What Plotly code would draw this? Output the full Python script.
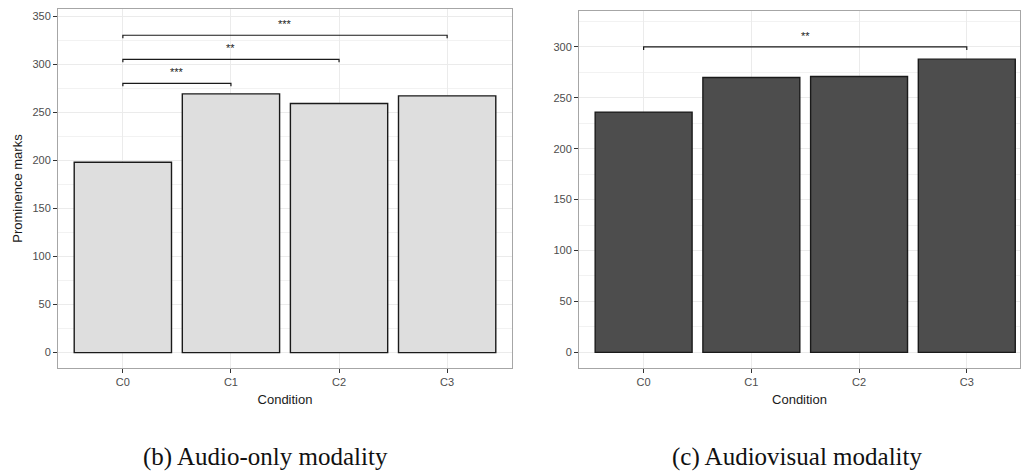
import plotly.graph_objects as go

W, H = 1021, 474

conditions = ["C0", "C1", "C2", "C3"]
audio_only = [198, 269, 259, 267]
audiovisual = [236, 270, 271, 288]

# significance brackets: (from index, to index, height, label)
audio_brackets = [(0, 1, 280, "***"), (0, 2, 305, "**"), (0, 3, 330, "***")]
av_brackets = [(0, 3, 300, "**")]

y_ticks = [0, 50, 100, 150, 200, 250, 300, 350]
captions = ["(b) Audio-only modality", "(c) Audiovisual modality"]


def px_x(p):
    return p / W


def px_y(p):
    return 1 - p / H


fig = go.Figure()

fig.add_trace(go.Bar(x=conditions, y=audio_only, width=0.9,
                     marker=dict(color="#dedede", line=dict(color="#1a1a1a", width=1.4)),
                     xaxis="x", yaxis="y", showlegend=False))
fig.add_trace(go.Bar(x=conditions, y=audiovisual, width=0.9,
                     marker=dict(color="#4d4d4d", line=dict(color="#1a1a1a", width=1.4)),
                     xaxis="x2", yaxis="y2", showlegend=False))

grid = "#ebebeb"
tickfont = dict(family="Liberation Sans", size=11, color="#4d4d4d")
titlefont = dict(family="Liberation Sans", size=13, color="#1a1a1a")

common_x = dict(type="category", showgrid=True, gridcolor=grid, gridwidth=1,
                ticks="outside", ticklen=4, tickcolor="#333333", tickfont=tickfont,
                showline=True, linecolor="#a6a6a6", linewidth=1, mirror=True,
                zeroline=False, automargin=False,
                title=dict(text="Condition", font=titlefont, standoff=7))
common_y = dict(showgrid=True, gridcolor=grid, gridwidth=1,
                tickvals=y_ticks, ticks="outside", ticklen=4, tickcolor="#333333",
                tickfont=tickfont, showline=True, linecolor="#a6a6a6", linewidth=1,
                mirror=True, zeroline=False, automargin=False,
                minor=dict(dtick=25, tick0=0, showgrid=True, gridcolor="#f2f2f2",
                           gridwidth=0.6, ticks=""))

fig.update_layout(
    width=W, height=H,
    margin=dict(l=0, r=0, t=0, b=0, autoexpand=False),
    paper_bgcolor="white", plot_bgcolor="white",
    bargap=0.1,
    xaxis=dict(common_x, domain=[px_x(58), px_x(512)], range=[-0.6, 3.6], anchor="y"),
    yaxis=dict(common_y, domain=[px_y(368), px_y(9)], range=[-16, 357.3], anchor="x",
               title=dict(text="Prominence marks", font=titlefont, standoff=6)),
    xaxis2=dict(common_x, domain=[px_x(579), px_x(1020)], range=[-0.6, 3.494], anchor="y2"),
    yaxis2=dict(common_y, domain=[px_y(367.7), px_y(10.7)], range=[-15.1, 335.6], anchor="x2"),
)

tip = 3
for brackets, xr, yr in [(audio_brackets, "x", "y"), (av_brackets, "x2", "y2")]:
    for a, b, h, lab in brackets:
        fig.add_shape(type="path",
                      path=f"M {a},{h - tip} L {a},{h} L {b},{h} L {b},{h - tip}",
                      xref=xr, yref=yr, line=dict(color="#1a1a1a", width=1.2))
        fig.add_annotation(x=(a + b) / 2, y=h, xref=xr, yref=yr, text=lab,
                           showarrow=False, yanchor="bottom", yshift=3,
                           font=dict(family="Liberation Sans", size=11, color="#1a1a1a"))

for cap, cx in zip(captions, [265, 797]):
    fig.add_annotation(x=px_x(cx), y=px_y(457), xref="paper", yref="paper",
                       text=cap, showarrow=False, xanchor="center", yanchor="middle",
                       font=dict(family="Liberation Serif", size=25, color="#111111"))

fig.write_html("out.html", config={"displayModeBar": False},
               post_script="document.body.style.margin='0';document.body.style.overflow='hidden';")
